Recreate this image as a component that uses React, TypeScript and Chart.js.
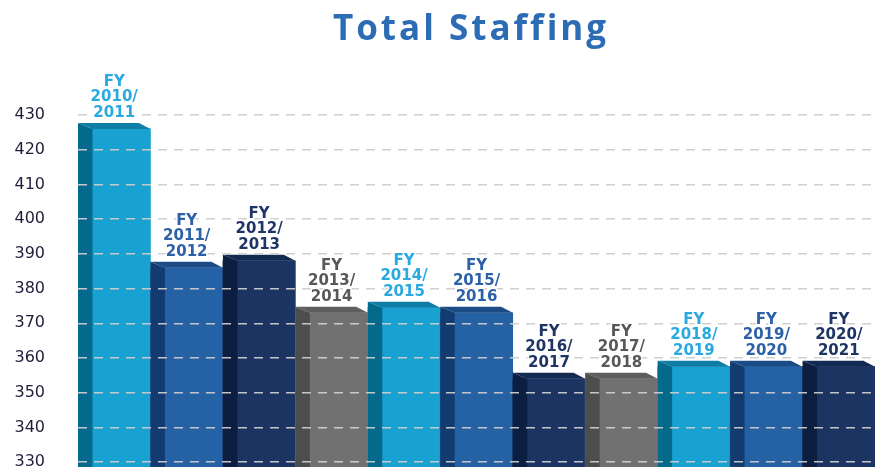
import React, { useEffect, useRef } from 'react';
import { Chart, registerables } from 'chart.js';

Chart.register(...registerables);

const TITLE = 'Total Staffing';
const CATEGORIES = [
  'FY 2010/2011', 'FY 2011/2012', 'FY 2012/2013', 'FY 2013/2014', 'FY 2014/2015', 'FY 2015/2016',
  'FY 2016/2017', 'FY 2017/2018', 'FY 2018/2019', 'FY 2019/2020', 'FY 2020/2021',
];
const STAFFING = [426, 386, 388, 373, 374.5, 373, 354, 354, 357.5, 357.5, 357.5];
const Y_TICKS = [330, 340, 350, 360, 370, 380, 390, 400, 410, 420, 430];

const FRONT = ['#18A1D1', '#2462A5', '#1B3461', '#717171'];
const SIDE = ['#046A8B', '#123C70', '#0C1E42', '#4C4E4E'];
const TOP = ['#0E7EA6', '#1B4C86', '#132A52', '#5E5E5E'];
const LABEL = ['#2AA9E0', '#2C61A8', '#1E3566', '#585858'];

const colorAt = (arr: string[], i: number) => arr[i % arr.length];

const barsPlugin = {
  id: 'bars3d',
  afterDatasetsDraw(chart: any) {
    const ctx = chart.ctx;
    const meta = chart.getDatasetMeta(0);
    ctx.save();
    meta.data.forEach((el: any, i: number) => {
      const { x, y, width } = el.getProps(['x', 'y', 'width'], true);
      const base = chart.chartArea.bottom;
      const left = x - width / 2;
      const right = x + width / 2;
      const d = width * 0.2;
      const dy = 6;
      ctx.fillStyle = colorAt(TOP, i);
      ctx.beginPath();
      ctx.moveTo(left, y - dy);
      ctx.lineTo(right - d * 0.8, y - dy);
      ctx.lineTo(right, y);
      ctx.lineTo(left + d, y);
      ctx.closePath();
      ctx.fill();
      ctx.fillStyle = colorAt(SIDE, i);
      ctx.beginPath();
      ctx.moveTo(left, y - dy);
      ctx.lineTo(left + d, y);
      ctx.lineTo(left + d, base);
      ctx.lineTo(left, base);
      ctx.closePath();
      ctx.fill();
    });
    ctx.restore();
  },
  afterDraw(chart: any) {
    const ctx = chart.ctx;
    const meta = chart.getDatasetMeta(0);
    ctx.save();
    ctx.textAlign = 'center';
    ctx.textBaseline = 'middle';
    ctx.font = 'bold 15px "DejaVu Sans"';
    ctx.lineJoin = 'round';
    meta.data.forEach((el: any, i: number) => {
      const { x, y } = el.getProps(['x', 'y'], true);
      const [fy, yrs] = CATEGORIES[i].split(' ');
      const [a, b] = yrs.split('/');
      const lines = [fy, a + '/', b];
      const lh = 15.5;
      lines.forEach((t, k) => {
        const ty = y - 16 - (lines.length - 1 - k) * lh;
        ctx.strokeStyle = 'rgba(255,255,255,0.9)';
        ctx.lineWidth = 3;
        ctx.strokeText(t, x, ty);
        ctx.fillStyle = colorAt(LABEL, i);
        ctx.fillText(t, x, ty);
      });
    });
    ctx.font = 'bold 35px "Open Sans"';
    (ctx as any).letterSpacing = '3px';
    ctx.fillStyle = '#2C6CB4';
    ctx.textBaseline = 'alphabetic';
    ctx.fillText(TITLE, 471, 40);
    ctx.restore();
  },
};

export default function App() {
  const ref = useRef<HTMLCanvasElement | null>(null);
  useEffect(() => {
    if (!ref.current) return;
    const chart = new Chart(ref.current, {
      type: 'bar',
      data: {
        labels: CATEGORIES,
        datasets: [
          {
            data: STAFFING,
            backgroundColor: STAFFING.map((_, i) => colorAt(FRONT, i)),
            borderWidth: 0,
            barPercentage: 1,
            categoryPercentage: 1,
          },
        ],
      },
      options: {
        responsive: false,
        maintainAspectRatio: false,
        animation: false,
        layout: { autoPadding: false, padding: { top: 115, bottom: 0, left: 0, right: 0 } },
        plugins: { legend: { display: false }, tooltip: { enabled: false }, title: { display: false } },
        scales: {
          x: { display: false },
          y: {
            min: 328.6,
            max: 430,
            afterBuildTicks: (scale: any) => {
              scale.ticks = Y_TICKS.map((v) => ({ value: v }));
            },
            afterFit: (scale: any) => {
              scale.width = 78;
              scale.paddingTop = 0;
              scale.paddingBottom = 0;
            },
            border: { display: false, dash: [9, 7] },
            grid: {
              z: 1,
              color: 'rgba(205,205,205,0.95)',
              lineWidth: 1.5,
              drawTicks: false,
            },
            ticks: {
              padding: 33,
              color: '#1E1E3A',
              font: { family: '"DejaVu Sans"', size: 16 },
              callback: (v: any) => String(v),
            },
          },
        },
      },
      plugins: [barsPlugin],
    } as any);
    return () => chart.destroy();
  }, []);
  return (
    <div style={{ position: 'fixed', left: 0, top: 0, width: 875, height: 467, background: '#fff' }}>
      <canvas ref={ref} width={875} height={467} style={{ width: 875, height: 467, display: 'block' }} />
    </div>
  );
}
